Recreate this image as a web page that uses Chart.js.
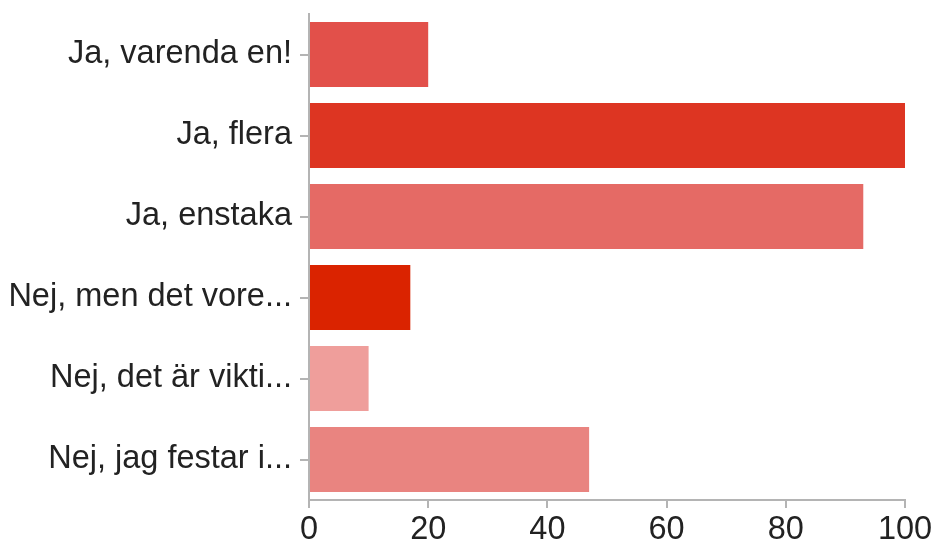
<!DOCTYPE html>
<html>
<head>
<meta charset="utf-8">
<script src="https://cdn.jsdelivr.net/npm/chart.js@4/dist/chart.umd.min.js"></script>
<style>
  html, body { margin: 0; padding: 0; background: #fff; }
  #wrap { width: 936px; height: 541px; }
</style>
</head>
<body>
<div id="wrap"><canvas id="myChart"></canvas></div>
<script>
// answers, as they appear top to bottom
var categories = ['Ja, varenda en!', 'Ja, flera', 'Ja, enstaka', 'Nej, men det vore...', 'Nej, det är vikti...', 'Nej, jag festar i...'];
var values = [20, 100, 93, 17, 10, 47];
var barColors = ['#E2504A', '#DD3522', '#E56A65', '#DA2300', '#EF9E9B', '#E98480'];
var xTicks = [0, 20, 40, 60, 80, 100];

var font = { family: '"Liberation Sans", Arial, Helvetica, sans-serif', size: 32.5 };

const config = {
    type: 'bar',
    data: {
        labels: categories,
        datasets: [{
            data: values,
            backgroundColor: barColors,
            barPercentage: 0.8,
            categoryPercentage: 1
        }]
    },
    options: {
        indexAxis: 'y',
        responsive: true,
        maintainAspectRatio: false,
        animation: false,
        layout: { padding: { top: 14, right: 31, left: 0, bottom: 0 } },
        plugins: { legend: { display: false }, tooltip: { enabled: false } },
        scales: {
            x: {
                min: 0,
                max: 100,
                afterBuildTicks: function (axis) {
                    axis.ticks = xTicks.map(v => ({ value: v }));
                },
                afterFit: function (axis) { axis.height = 41; },
                grid: { drawOnChartArea: false, drawTicks: true, tickLength: 8, color: '#b4b4b4', lineWidth: 2 },
                border: { display: true, color: '#b4b4b4', width: 2 },
                ticks: { color: '#222', font: font, padding: 3, maxRotation: 0 }
            },
            y: {
                afterFit: function (axis) {
                    axis.width = 309;
                    axis.paddingTop = 0;
                    axis.paddingBottom = 0;
                },
                grid: { drawOnChartArea: false, drawTicks: true, tickLength: 9, offset: false, color: '#b4b4b4', lineWidth: 2 },
                border: { display: true, color: '#b4b4b4', width: 2 },
                ticks: { color: '#222', font: font, padding: 8, autoSkip: false }
            }
        }
    }
};

new Chart(document.getElementById('myChart'), config);
</script>
</body>
</html>
